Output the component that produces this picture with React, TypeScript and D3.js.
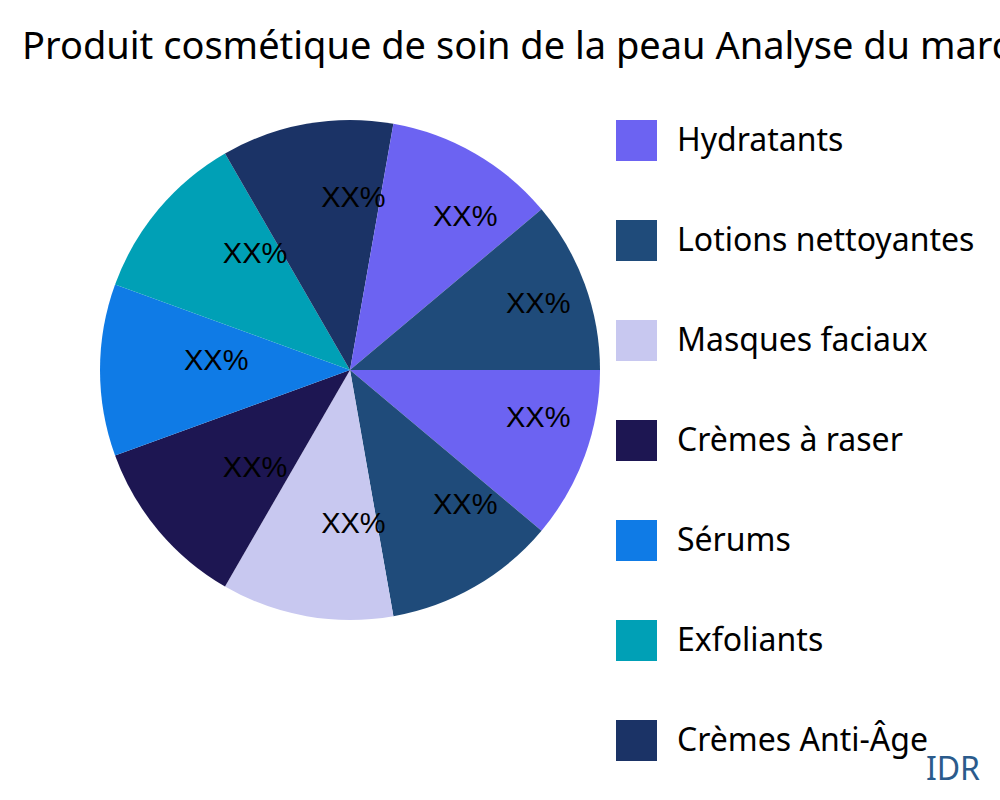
import React from "react";
import * as d3 from "d3";

const title = "Produit cosmétique de soin de la peau Analyse du marché";
const categories = [
  "Hydratants",
  "Lotions nettoyantes",
  "Masques faciaux",
  "Crèmes à raser",
  "Sérums",
  "Exfoliants",
  "Crèmes Anti-Âge",
];
const colors = ["#6c63f2", "#1f4b7a", "#c8c8f0", "#1d1652", "#0f7be6", "#00a0b6", "#1b3366"];
const sliceValues = [1, 1, 1, 1, 1, 1, 1, 1, 1];
const sliceLabels = ["XX%", "XX%", "XX%", "XX%", "XX%", "XX%", "XX%", "XX%", "XX%"];
const watermark = "IDR";

export default function App() {
  const W = 1000;
  const H = 800;
  const cx = 350;
  const cy = 370;
  const R = 250;

  const pie = d3
    .pie<number>()
    .sort(null)
    .value((d) => d)
    .startAngle(Math.PI / 2)
    .endAngle(Math.PI / 2 + 2 * Math.PI);
  const arcs = pie(sliceValues);
  const arcGen = d3.arc<d3.PieArcDatum<number>>().innerRadius(0).outerRadius(R);
  const labelArc = d3.arc<d3.PieArcDatum<number>>().innerRadius(166).outerRadius(166);

  const legendY = d3.scalePoint<string>().domain(categories).range([140, 740]);

  return (
    <svg
      width={W}
      height={H}
      style={{ position: "fixed", left: 0, top: 0, background: "#fff" }}
    >
      <text
        x={22}
        y={59}
        fontFamily="'Noto Sans', 'Open Sans', sans-serif"
        fontSize={38}
        fill="#000"
      >
        {title}
      </text>
      <g transform={`translate(${cx},${cy})`}>
        {arcs.map((a, i) => (
          <path key={i} d={arcGen(a) || ""} fill={colors[i % colors.length]} />
        ))}
        {arcs.map((a, i) => {
          const [x, y] = labelArc.centroid(a);
          return (
            <text
              key={"l" + i}
              x={x}
              y={y}
              fontFamily="'Liberation Sans', Arial, sans-serif"
              fontSize={29}
              fill="#000"
            >
              {sliceLabels[i]}
            </text>
          );
        })}
      </g>
      {categories.map((c, i) => {
        const y = legendY(c) as number;
        return (
          <g key={c}>
            <rect x={616} y={y - 20} width={41} height={41} fill={colors[i]} />
            <text
              x={677}
              y={y + 11}
              fontFamily="'Noto Sans', 'Open Sans', sans-serif"
              fontSize={32}
              fill="#000"
            >
              {c}
            </text>
          </g>
        );
      })}
      <text
        x={980}
        y={780}
        textAnchor="end"
        fontFamily="'Noto Sans', 'Open Sans', sans-serif"
        fontSize={32}
        fill="#2b5b8c"
      >
        {watermark}
      </text>
    </svg>
  );
}
